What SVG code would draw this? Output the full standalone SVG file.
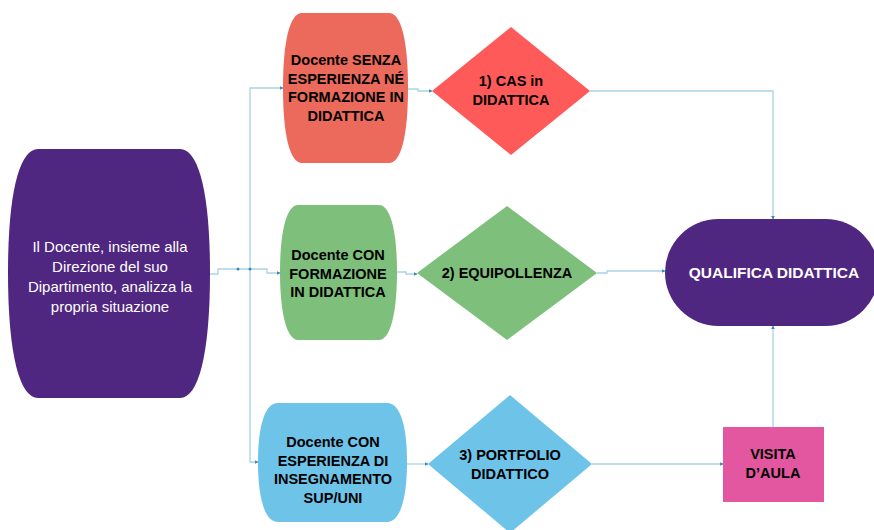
<svg xmlns="http://www.w3.org/2000/svg" width="874" height="530" viewBox="0 0 874 530">
  <defs>
    <marker id="dot" viewBox="0 0 6 6" refX="5" refY="3" markerWidth="4" markerHeight="4" orient="auto" markerUnits="userSpaceOnUse">
      <path d="M0,0 L6,3 L0,6 Z" fill="#3a8cbc"/>
    </marker>
    <style>
      .conn { fill: none; stroke: #a9d3e6; stroke-width: 1.3; }
      .lbl { font-family: "Liberation Sans", Arial, sans-serif; font-weight: bold; font-size: 14.5px; fill: #000; text-anchor: middle; }
      .lbl-w { font-family: "Liberation Sans", Arial, sans-serif; font-size: 15px; fill: #fff; text-anchor: middle; }
      .lbl-wb { font-family: "Liberation Sans", Arial, sans-serif; font-weight: bold; font-size: 15.5px; fill: #fff; text-anchor: middle; }
    </style>
  </defs>
  <rect width="874" height="530" fill="#ffffff"/>

  <!-- connectors -->
  <g id="connectors">
    <path class="conn" d="M208,274 H218 V269 H250"/>
    <path class="conn" d="M250,269 V88 H283" marker-end="url(#dot)"/>
    <path class="conn" d="M250,269 H267 V273 H280" marker-end="url(#dot)"/>
    <path class="conn" d="M250,269 V462 H258" marker-end="url(#dot)"/>
    <path class="conn" d="M408,89 H418 V91 H432" marker-end="url(#dot)"/>
    <path class="conn" d="M397,272 H406 V274 H417" marker-end="url(#dot)"/>
    <path class="conn" d="M407,464 H428" marker-end="url(#dot)"/>
    <path class="conn" d="M590,91 H773 V219" marker-end="url(#dot)"/>
    <path class="conn" d="M597,273 H607 V271 H665" marker-end="url(#dot)"/>
    <path class="conn" d="M592,464 H723" marker-end="url(#dot)"/>
    <path class="conn" d="M773,427 V326" marker-end="url(#dot)"/>
    <circle cx="238" cy="269" r="1.5" fill="#3a8cbc"/>
    <circle cx="250" cy="269" r="1.5" fill="#3a8cbc"/>
  </g>

  <!-- starting situation -->
  <g id="start">
    <path d="M38,149 H180 C198,149 210,190 210,273 C210,356 198,398 180,398 H38 C20,398 8,356 8,273 C8,190 20,149 38,149 Z" fill="#4f2680"/>
    <text class="lbl-w" x="110" y="252">Il Docente, insieme alla</text>
    <text class="lbl-w" x="110" y="272">Direzione del suo</text>
    <text class="lbl-w" x="110" y="292">Dipartimento, analizza la</text>
    <text class="lbl-w" x="110" y="312">propria situazione</text>
  </g>

  <!-- teacher profiles -->
  <g id="profile-none">
    <path d="M302,13 H389 C401,13 408,40 408,88 C408,136 401,163 389,163 H302 C290,163 283,136 283,88 C283,40 290,13 302,13 Z" fill="#ec6a5c"/>
    <text class="lbl" x="346" y="65">Docente SENZA</text>
    <text class="lbl" x="346" y="83.5">ESPERIENZA NÉ</text>
    <text class="lbl" x="346" y="102">FORMAZIONE IN</text>
    <text class="lbl" x="346" y="120.5">DIDATTICA</text>
  </g>

  <g id="profile-training">
    <path d="M298,205 H379 C390,205 397,230 397,272 C397,314 390,340 379,340 H298 C287,340 280,314 280,272 C280,230 287,205 298,205 Z" fill="#7dbf7b"/>
    <text class="lbl" x="338" y="260">Docente CON</text>
    <text class="lbl" x="338" y="278.5">FORMAZIONE</text>
    <text class="lbl" x="338" y="297">IN DIDATTICA</text>
  </g>

  <g id="profile-experience">
    <path d="M278,403 H387 C400,403 407,425 407,462 C407,499 400,522 387,522 H278 C265,522 258,499 258,462 C258,425 265,403 278,403 Z" fill="#6ec3e9"/>
    <text class="lbl" x="333" y="447">Docente CON</text>
    <text class="lbl" x="333" y="465.5">ESPERIENZA DI</text>
    <text class="lbl" x="333" y="484">INSEGNAMENTO</text>
    <text class="lbl" x="333" y="502.5">SUP/UNI</text>
  </g>

  <!-- paths to qualification -->
  <g id="path-cas">
    <polygon points="432,91 511,27 590,91 511,155" fill="#ff5a5a"/>
    <text class="lbl" x="511" y="86">1) CAS in</text>
    <text class="lbl" x="511" y="105">DIDATTICA</text>
  </g>

  <g id="path-equipollenza">
    <polygon points="417,273 507,206 597,273 507,340" fill="#7dbf7b"/>
    <text class="lbl" x="507" y="278">2) EQUIPOLLENZA</text>
  </g>

  <g id="path-portfolio">
    <polygon points="428,464 510,395 592,464 510,533" fill="#6ec3e9"/>
    <text class="lbl" x="510" y="460">3) PORTFOLIO</text>
    <text class="lbl" x="510" y="479">DIDATTICO</text>
  </g>

  <g id="visita">
    <rect x="723" y="427" width="101" height="75" fill="#e2579f"/>
    <text class="lbl" x="773" y="459">VISITA</text>
    <text class="lbl" x="773" y="478">D’AULA</text>
  </g>

  <g id="qualifica">
    <rect x="665" y="219" width="214" height="107" rx="53.5" ry="53.5" fill="#4f2680"/>
    <text class="lbl-wb" x="774" y="278">QUALIFICA DIDATTICA</text>
  </g>
</svg>
